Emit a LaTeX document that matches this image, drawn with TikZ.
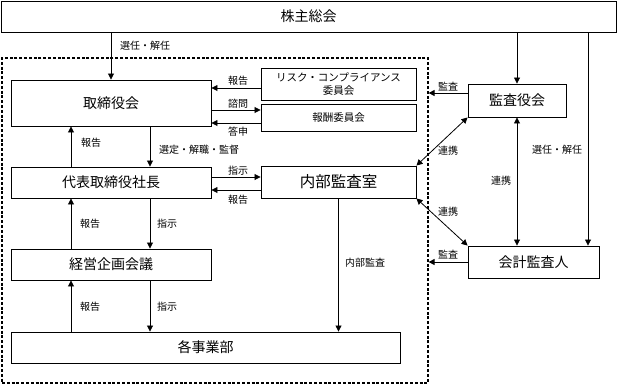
\documentclass[tikz,border=0pt]{standalone}
\usepackage{fontspec}
\setmainfont{Noto Sans CJK JP}
\usetikzlibrary{arrows.meta,calc}
\begin{document}
\begin{tikzpicture}[x=1pt,y=-1pt,
  box/.style={draw,line width=0.9pt,inner sep=0pt,font=\fontsize{14}{16}\selectfont},
  cbox/.style={box,font=\fontsize{10.5}{13}\selectfont,align=center},
  arr/.style={line width=0.8pt,-{Triangle[length=6pt,width=6pt]}},
  barr/.style={line width=0.8pt,{Triangle[length=6pt,width=6pt]}-{Triangle[length=6pt,width=6pt]}},
  lbl/.style={font=\fontsize{10}{11}\selectfont,inner sep=0pt},
  frame/.style={draw,line width=1.2pt,dash pattern=on 3pt off 1.8pt,inner sep=0pt}]
\useasboundingbox (0,0) rectangle (618,386);
% boxes
\node[box,minimum width=615pt,minimum height=31pt] (sh) at (308.5,16.5) {株主総会};
\node[frame,minimum width=426pt,minimum height=325pt] (fr) at (215,220.5) {};
\node[box,minimum width=200pt,minimum height=46pt] (tori) at (111,103) {取締役会};
\node[box,minimum width=200pt,minimum height=31pt] (dai) at (111,182.5) {代表取締役社長};
\node[box,minimum width=200pt,minimum height=31pt] (kei) at (111,264.5) {経営企画会議};
\node[box,minimum width=389pt,minimum height=31pt] (kaku) at (205.5,347.5) {各事業部};
\node[cbox,minimum width=155pt,minimum height=32pt] (risk) at (338.5,84) {リスク・コンプライアンス\\委員会};
\node[cbox,minimum width=155pt,minimum height=27pt] (hou) at (338.5,117.5) {報酬委員会};
\node[box,minimum width=155pt,minimum height=32pt,font=\fontsize{15.5}{17}\selectfont] (naibu) at (338.5,182) {内部監査室};
\node[box,minimum width=98pt,minimum height=33pt] (kansa) at (517,100.5) {監査役会};
\node[box,minimum width=131pt,minimum height=32pt] (kaikei) at (533.5,262) {会計監査人};
\coordinate (c588) at (588,0);
% vertical arrows left column
\draw[arr] (sh.south -| tori) -- (tori.north);
\draw[arr] ([xshift=39pt]tori.south) -- ([xshift=39pt]dai.north);
\draw[arr] ([xshift=-40pt]dai.north) -- ([xshift=-40pt]tori.south);
\draw[arr] ([xshift=39pt]dai.south) -- ([xshift=39pt]kei.north);
\draw[arr] ([xshift=-40pt]kei.north) -- ([xshift=-40pt]dai.south);
\draw[arr] ([xshift=39pt]kei.south) -- ([xshift=39pt]kei.south |- kaku.north);
\draw[arr] ([xshift=-40pt]kei.south |- kaku.north) -- ([xshift=-40pt]kei.south);
% horizontal arrows
\draw[arr] (risk.west |- 0,88) -- (tori.east |- 0,88);
\draw[arr] (tori.east |- 0,110) -- (hou.west |- 0,110);
\draw[arr] (hou.west |- 0,123) -- (tori.east |- 0,123);
\draw[arr] (dai.east |- 0,177) -- (naibu.west |- 0,177);
\draw[arr] (naibu.west |- 0,190) -- (dai.east |- 0,190);
\draw[arr] (naibu.south) -- (naibu.south |- kaku.north);
% right side
\draw[arr] (sh.south -| kansa) -- (kansa.north);
\draw[arr] (sh.south -| c588) -- (kaikei.north -| c588);
\draw[arr] (kansa.west |- 0,93) -- (fr.east |- 0,93);
\draw[arr] (kaikei.west |- 0,262) -- (fr.east |- 0,262);
\draw[barr] (kansa.south west) -- (naibu.north east);
\draw[barr] (naibu.south east) -- (kaikei.north west);
\draw[barr] (kansa.south) -- (kansa.south |- kaikei.north);
% labels
\node[lbl] (l1) at (145,46) {選任・解任};
\node[lbl] (l2) at (238,81) {報告};
\node[lbl] (l3) at (238,104) {諮問};
\node[lbl] (l4) at (238,132) {答申};
\node[lbl] (l5) at (91,143) {報告};
\node[lbl] (l6) at (199,150) {選定・解職・監督};
\node[lbl] (l7) at (238,171) {指示};
\node[lbl] (l8) at (238,200) {報告};
\node[lbl] (l9) at (90,224) {報告};
\node[lbl] (l10) at (167,224) {指示};
\node[lbl] (l11) at (90,307) {報告};
\node[lbl] (l12) at (167,307) {指示};
\node[lbl] (l13) at (365,263) {内部監査};
\node[lbl] (l14) at (448,87) {監査};
\node[lbl] (l15) at (448,151) {連携};
\node[lbl] (l16) at (501,181) {連携};
\node[lbl] (l17) at (557,150) {選任・解任};
\node[lbl] (l18) at (448,212) {連携};
\node[lbl] (l19) at (448,255) {監査};
\end{tikzpicture}
\end{document}
